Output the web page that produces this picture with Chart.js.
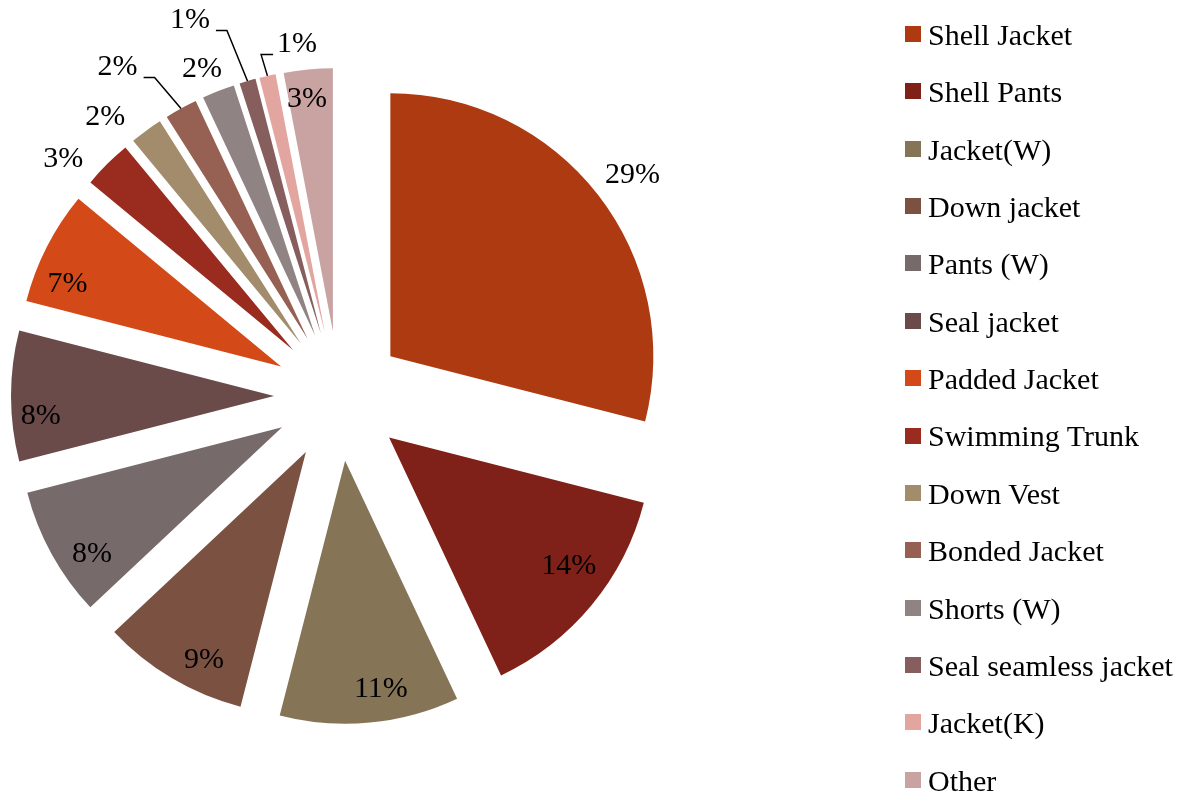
<!DOCTYPE html>
<html>
<head>
    <meta charset="utf-8" />
    <title>Product share</title>
    <style>
        html, body {
            margin: 0;
            padding: 0;
            background: #ffffff;
        }

        #wrap {
            position: relative;
            width: 1196px;
            height: 796px;
        }

        #pieChart {
            position: absolute;
            left: 0;
            top: 0;
        }

        .legend-box {
            position: absolute;
            width: 16px;
            height: 16px;
        }

        .legend-text {
            position: absolute;
            font: 30px "Liberation Serif", serif;
            line-height: 30px;
            color: #000;
            white-space: nowrap;
        }
    </style>
</head>
<body>
    <div id="wrap">
        <canvas id="pieChart" width="1196" height="796"></canvas>
        <div id="legend"></div>
    </div>

    <script src="https://cdn.jsdelivr.net/npm/chart.js"></script>
    <script>
        const products = ['Shell Jacket', 'Shell Pants', 'Jacket(W)', 'Down jacket', 'Pants (W)', 'Seal jacket',
            'Padded Jacket', 'Swimming Trunk', 'Down Vest', 'Bonded Jacket', 'Shorts (W)',
            'Seal seamless jacket', 'Jacket(K)', 'Other'];
        const shares = [29, 14, 11, 9, 8, 8, 7, 3, 2, 2, 2, 1, 1, 3];

        const sliceColors = ['#ae3a12', '#7f2119', '#857456', '#7b5142', '#766a6a', '#6b4a4a',
            '#d34a18', '#9a2b1f', '#a38c6b', '#966152', '#908383', '#875e5e', '#e3a59f', '#c9a2a2'];

        // where each percentage goes: distance from the slice tip (x radius), angle nudge (deg), leader line
        const labelPlace = [
            [1.15, 1, false], [0.84, -4, false], [0.88, -3.5, false], [0.88, -4.5, false],
            [0.87, -5, false], [0.89, -5, false], [0.87, -6, false], [1.135, -5.3, false],
            [1.136, -4.9, false], [1.26, -6.2, true], [1.10, -1.4, false], [1.29, -6.5, true],
            [1.10, 7.1, true], [0.887, -1, false]
        ];

        const explodeBy = 65;
        const labelFont = '30px "Liberation Serif", serif';

        // pull every slice out along its bisector
        const explodePlugin = {
            id: 'explode',
            beforeDatasetDraw(chart, args) {
                const ctx = chart.ctx;
                args.meta.data.forEach(arc => {
                    const mid = (arc.startAngle + arc.endAngle) / 2;
                    ctx.save();
                    ctx.translate(Math.cos(mid) * explodeBy, Math.sin(mid) * explodeBy);
                    arc.draw(ctx);
                    ctx.restore();
                });
                return false;
            },
            afterDraw(chart) {
                const ctx = chart.ctx;
                const meta = chart.getDatasetMeta(0);
                const total = shares.reduce((a, b) => a + b, 0);
                ctx.save();
                ctx.font = labelFont;
                ctx.fillStyle = '#000';
                ctx.strokeStyle = '#000';
                ctx.lineWidth = 1.5;
                ctx.textAlign = 'center';
                ctx.textBaseline = 'middle';
                meta.data.forEach((arc, i) => {
                    const mid = (arc.startAngle + arc.endAngle) / 2;
                    const r = arc.outerRadius;
                    const tipX = arc.x + Math.cos(mid) * explodeBy;
                    const tipY = arc.y + Math.sin(mid) * explodeBy;
                    const [k, nudge, leader] = labelPlace[i];
                    const a = mid + nudge * Math.PI / 180;
                    const lx = tipX + Math.cos(a) * r * k;
                    const ly = tipY + Math.sin(a) * r * k;
                    const txt = Math.round(shares[i] / total * 100) + '%';
                    ctx.fillText(txt, lx, ly);
                    if (leader) {
                        const ex = tipX + Math.cos(mid) * r;
                        const ey = tipY + Math.sin(mid) * r;
                        const w = ctx.measureText(txt).width;
                        const y0 = ly + 10;
                        let sx, bx;
                        if (ex > lx) {
                            sx = lx + w / 2 + 6;
                            bx = sx + 11;
                        } else {
                            sx = lx - w / 2 - 4;
                            bx = sx - 12;
                        }
                        ctx.beginPath();
                        ctx.moveTo(sx, y0);
                        ctx.lineTo(bx, y0);
                        ctx.lineTo(ex, ey);
                        ctx.stroke();
                    }
                });
                ctx.restore();
            }
        };

        const ctx = document.getElementById('pieChart').getContext('2d');
        const chart = new Chart(ctx, {
            type: 'pie',
            data: {
                labels: products,
                datasets: [{
                    data: shares,
                    backgroundColor: sliceColors,
                    borderWidth: 0
                }]
            },
            options: {
                responsive: false,
                animation: false,
                events: [],
                radius: 263,
                layout: {
                    padding: { left: 0, top: 0, right: 518, bottom: 4 }
                },
                plugins: {
                    legend: { display: false },
                    tooltip: { enabled: false }
                }
            },
            plugins: [explodePlugin]
        });

        // legend on the right
        const legend = document.getElementById('legend');
        const step = 57.36;
        products.forEach((name, i) => {
            const box = document.createElement('div');
            box.className = 'legend-box';
            box.style.left = '905px';
            box.style.top = (26 + i * step) + 'px';
            box.style.background = sliceColors[i];
            legend.appendChild(box);

            const txt = document.createElement('div');
            txt.className = 'legend-text';
            txt.style.left = '928px';
            txt.style.top = (19.9 + i * step) + 'px';
            txt.textContent = name;
            legend.appendChild(txt);
        });
    </script>
</body>
</html>
